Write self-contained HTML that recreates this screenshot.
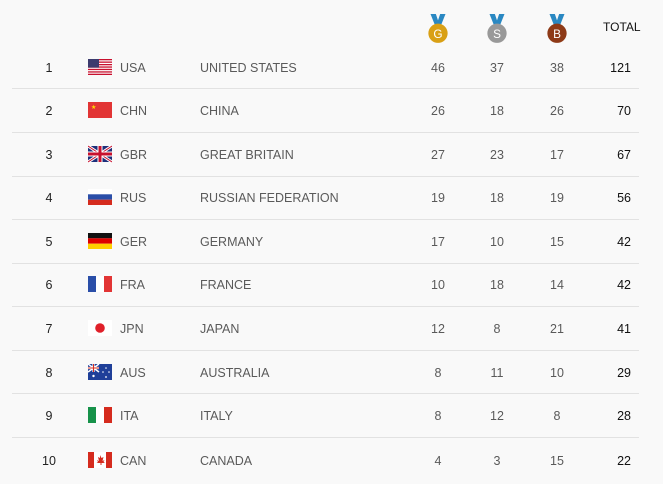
<!DOCTYPE html>
<html><head><meta charset="utf-8"><style>
body{margin:0;width:663px;height:484px;background:#f9f9f9;font-family:"Liberation Sans",sans-serif;position:relative;overflow:hidden}
.r{position:absolute;left:0;width:663px;height:44px;font-size:12.5px;color:#5a5a5a}
.r div{position:absolute;top:1px;line-height:44px}
.sep{position:absolute;left:12px;width:627px;height:1px;background:#e2e2e2}
.rk{left:30px;width:38px;text-align:center;color:#222}
.cd{left:120px}.nm{left:200px}
.g{left:418px;width:40px;text-align:center}
.s{left:477px;width:40px;text-align:center}
.b{left:537px;width:40px;text-align:center}
.t{left:590px;width:41px;text-align:right;color:#111}
.med{position:absolute;top:14px;width:22px;height:30px}
</style></head><body>
<svg class="med" style="left:427px" viewBox="0 0 20 28"><path d="M3 0h5l2 6 2-6h5l-4 10H7z" fill="#2a88c2"/><circle cx="10" cy="18" r="9" fill="#d9a015"/><text x="10" y="22.5" font-size="11" fill="#fff" text-anchor="middle" font-family="Liberation Sans">G</text></svg>
<svg class="med" style="left:486px" viewBox="0 0 20 28"><path d="M3 0h5l2 6 2-6h5l-4 10H7z" fill="#2a88c2"/><circle cx="10" cy="18" r="9" fill="#999"/><text x="10" y="22.5" font-size="11" fill="#fff" text-anchor="middle" font-family="Liberation Sans">S</text></svg>
<svg class="med" style="left:546px" viewBox="0 0 20 28"><path d="M3 0h5l2 6 2-6h5l-4 10H7z" fill="#2a88c2"/><circle cx="10" cy="18" r="9" fill="#8e3a17"/><text x="10" y="22.5" font-size="11" fill="#fff" text-anchor="middle" font-family="Liberation Sans">B</text></svg>
<div style="position:absolute;left:603px;top:20px;font-size:12px;color:#111">TOTAL</div>

<div class="r" style="top:45px"><div class="rk">1</div><div class="cd">USA</div><div class="nm">UNITED STATES</div><div class="g">46</div><div class="s">37</div><div class="b">38</div><div class="t">121</div></div>
<div class="sep" style="top:88px"></div>
<div class="r" style="top:88px"><div class="rk">2</div><div class="cd">CHN</div><div class="nm">CHINA</div><div class="g">26</div><div class="s">18</div><div class="b">26</div><div class="t">70</div></div>
<div class="sep" style="top:132px"></div>
<div class="r" style="top:132px"><div class="rk">3</div><div class="cd">GBR</div><div class="nm">GREAT BRITAIN</div><div class="g">27</div><div class="s">23</div><div class="b">17</div><div class="t">67</div></div>
<div class="sep" style="top:176px"></div>
<div class="r" style="top:175px"><div class="rk">4</div><div class="cd">RUS</div><div class="nm">RUSSIAN FEDERATION</div><div class="g">19</div><div class="s">18</div><div class="b">19</div><div class="t">56</div></div>
<div class="sep" style="top:219px"></div>
<div class="r" style="top:219px"><div class="rk">5</div><div class="cd">GER</div><div class="nm">GERMANY</div><div class="g">17</div><div class="s">10</div><div class="b">15</div><div class="t">42</div></div>
<div class="sep" style="top:263px"></div>
<div class="r" style="top:262px"><div class="rk">6</div><div class="cd">FRA</div><div class="nm">FRANCE</div><div class="g">10</div><div class="s">18</div><div class="b">14</div><div class="t">42</div></div>
<div class="sep" style="top:306px"></div>
<div class="r" style="top:306px"><div class="rk">7</div><div class="cd">JPN</div><div class="nm">JAPAN</div><div class="g">12</div><div class="s">8</div><div class="b">21</div><div class="t">41</div></div>
<div class="sep" style="top:350px"></div>
<div class="r" style="top:350px"><div class="rk">8</div><div class="cd">AUS</div><div class="nm">AUSTRALIA</div><div class="g">8</div><div class="s">11</div><div class="b">10</div><div class="t">29</div></div>
<div class="sep" style="top:393px"></div>
<div class="r" style="top:393px"><div class="rk">9</div><div class="cd">ITA</div><div class="nm">ITALY</div><div class="g">8</div><div class="s">12</div><div class="b">8</div><div class="t">28</div></div>
<div class="sep" style="top:437px"></div>
<div class="r" style="top:438px"><div class="rk">10</div><div class="cd">CAN</div><div class="nm">CANADA</div><div class="g">4</div><div class="s">3</div><div class="b">15</div><div class="t">22</div></div>

<svg style="position:absolute;left:88px;top:0" width="24" height="484">
<g transform="translate(0,59)"><rect width="24" height="16" fill="#fff"/><g fill="#c8102e"><rect y="0" width="24" height="1.3"/><rect y="2.5" width="24" height="1.3"/><rect y="5" width="24" height="1.3"/><rect y="7.4" width="24" height="1.3"/><rect y="9.8" width="24" height="1.3"/><rect y="12.3" width="24" height="1.3"/><rect y="14.7" width="24" height="1.3"/></g><rect width="11" height="8.6" fill="#3c3b6e"/></g>
<g transform="translate(0,102)"><rect width="24" height="16" fill="#e23535"/><text x="3" y="7" font-size="6" fill="#ffde00">★</text></g>
<g transform="translate(0,146)"><rect width="24" height="16" fill="#1d2f7a"/><path d="M0 0L24 16M24 0L0 16" stroke="#fff" stroke-width="3"/><path d="M0 0L24 16M24 0L0 16" stroke="#c8102e" stroke-width="1"/><path d="M12 0V16M0 8H24" stroke="#fff" stroke-width="5"/><path d="M12 0V16M0 8H24" stroke="#c8102e" stroke-width="3"/></g>
<g transform="translate(0,189)"><rect width="24" height="5.3" fill="#fff"/><rect y="5.3" width="24" height="5.4" fill="#2a4ea8"/><rect y="10.7" width="24" height="5.3" fill="#d52b1e"/></g>
<g transform="translate(0,233)"><rect width="24" height="5.3" fill="#111"/><rect y="5.3" width="24" height="5.4" fill="#dd0000"/><rect y="10.7" width="24" height="5.3" fill="#ffce00"/></g>
<g transform="translate(0,276)"><rect width="8" height="16" fill="#2a4ea8"/><rect x="8" width="8" height="16" fill="#fff"/><rect x="16" width="8" height="16" fill="#e23535"/></g>
<g transform="translate(0,320)"><rect width="24" height="16" fill="#fff"/><circle cx="12" cy="8" r="4.8" fill="#e0202a"/></g>
<g transform="translate(0,364)"><rect width="24" height="16" fill="#1f3f99"/><path d="M0 0L11 8M11 0L0 8" stroke="#fff" stroke-width="1.5"/><path d="M5.5 0V8M0 4H11" stroke="#fff" stroke-width="2.2"/><path d="M5.5 0V8M0 4H11" stroke="#d52b1e" stroke-width="1"/><g fill="#fff"><circle cx="5.5" cy="12" r="1.2"/><circle cx="18" cy="4" r=".8"/><circle cx="15" cy="8" r=".8"/><circle cx="21" cy="8" r=".8"/><circle cx="18" cy="13" r=".9"/></g></g>
<g transform="translate(0,407)"><rect width="8" height="16" fill="#17924a"/><rect x="8" width="8" height="16" fill="#fff"/><rect x="16" width="8" height="16" fill="#d52b1e"/></g>
<g transform="translate(0,452)"><rect width="24" height="16" fill="#fff"/><rect width="6" height="16" fill="#d52b1e"/><rect x="18" width="6" height="16" fill="#d52b1e"/><path d="M12 3l1.5 3 2-1-1 4 2-1-1 2 1.5 1h-3.5v2h-1v-2H8.5l1.5-1-1-2 2 1-1-4 2 1z" fill="#d52b1e"/></g>
</svg>
</body></html>
